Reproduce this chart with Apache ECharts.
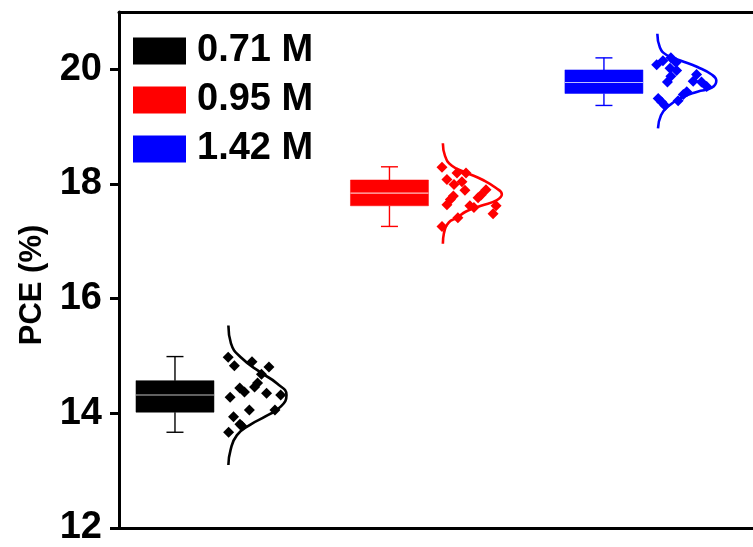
<!DOCTYPE html>
<html>
<head>
<meta charset="utf-8">
<script src="https://cdn.jsdelivr.net/npm/echarts@6/dist/echarts.min.js"></script>
<style>
  html, body { margin: 0; padding: 0; background: #fff; }
  #chart { width: 753px; height: 547px; }
</style>
</head>
<body>
<div id="chart"></div>
<script>
// Concentration groups and their colours
const groups = ['0.71 M', '0.95 M', '1.42 M'];
const groupColors = ['#000000', '#ff0000', '#0000ff'];

// Box statistics per group: [min, Q1, median, Q3, max] of PCE (%)
const boxStats = [
  [13.67, 14.02, 14.32, 14.57, 14.99],
  [17.26, 17.62, 17.84, 18.07, 18.30],
  [19.37, 19.58, 19.77, 19.99, 20.20]
];

// Individual devices: [horizontal jitter from the box centre, PCE (%)]
const points071 = [
  [0.248, 14.98], [0.277, 14.83], [0.359, 14.90], [0.438, 14.81], [0.403, 14.68],
  [0.385, 14.53], [0.371, 14.46], [0.302, 14.44], [0.324, 14.37], [0.257, 14.28],
  [0.427, 14.35], [0.493, 14.32], [0.347, 14.06], [0.466, 14.06], [0.273, 13.94],
  [0.303, 13.81], [0.312, 13.78], [0.250, 13.67]
];
const points095 = [
  [0.245, 18.29], [0.268, 18.08], [0.315, 18.19], [0.357, 18.19], [0.301, 17.99],
  [0.338, 18.04], [0.352, 17.89], [0.450, 17.90], [0.427, 17.81], [0.413, 17.76],
  [0.298, 17.79], [0.284, 17.73], [0.268, 17.64], [0.375, 17.62], [0.394, 17.59],
  [0.497, 17.62], [0.483, 17.48], [0.319, 17.41], [0.245, 17.26]
];
const points142 = [
  [0.246, 20.08], [0.275, 20.15], [0.312, 20.20], [0.336, 20.12], [0.308, 20.02],
  [0.339, 19.98], [0.312, 19.88], [0.296, 19.78], [0.432, 19.91], [0.416, 19.79],
  [0.455, 19.78], [0.479, 19.70], [0.386, 19.61], [0.370, 19.56], [0.346, 19.45],
  [0.253, 19.49], [0.269, 19.43], [0.284, 19.37]
];

// Normal-distribution outlines: [horizontal offset from the box centre, PCE (%)]
const curve071 = [
  [0.249, 15.53], [0.261, 15.22], [0.312, 14.96], [0.401, 14.71], [0.476, 14.52],
  [0.520, 14.32], [0.494, 14.12], [0.424, 13.95], [0.350, 13.80], [0.289, 13.62],
  [0.259, 13.36], [0.249, 13.10]
];
const curve095 = [
  [0.249, 18.71], [0.259, 18.49], [0.291, 18.32], [0.357, 18.20], [0.436, 18.07],
  [0.497, 17.93], [0.524, 17.82], [0.501, 17.72], [0.427, 17.62], [0.357, 17.52],
  [0.315, 17.41], [0.277, 17.33], [0.254, 17.14], [0.249, 16.96]
];
const curve142 = [
  [0.249, 20.62], [0.261, 20.38], [0.292, 20.25], [0.359, 20.15], [0.436, 20.04],
  [0.502, 19.91], [0.524, 19.80], [0.503, 19.68], [0.436, 19.61], [0.359, 19.50],
  [0.298, 19.35], [0.266, 19.20], [0.252, 18.97]
];

// Y axis tick values
const majorTicks = [12, 14, 16, 18, 20];
const minorTicks = [13, 15, 17, 19, 21];

const pointSets = [points071, points095, points142];
const curveSets = [curve071, curve095, curve142];

const FONT = '"Liberation Sans", Arial, Helvetica, sans-serif';

// Box-and-whisker glyph drawn through the axis scales
function renderBox(params, api) {
  const color = api.visual('color');
  const x = api.value(0);
  const pMin = api.coord([x, api.value(1)]);
  const yQ1 = api.coord([x, api.value(2)])[1];
  const yMed = api.coord([x, api.value(3)])[1];
  const yQ3 = api.coord([x, api.value(4)])[1];
  const yMax = api.coord([x, api.value(5)])[1];
  const cx = pMin[0], yMin = pMin[1];
  const half = 39, cap = 8.5;
  const ws = { stroke: color, lineWidth: 1.4 };
  return {
    type: 'group',
    children: [
      { type: 'line', shape: { x1: cx, y1: yMax, x2: cx, y2: yQ3 }, style: ws },
      { type: 'line', shape: { x1: cx, y1: yQ1, x2: cx, y2: yMin }, style: ws },
      { type: 'line', shape: { x1: cx - cap, y1: yMax, x2: cx + cap, y2: yMax }, style: ws },
      { type: 'line', shape: { x1: cx - cap, y1: yMin, x2: cx + cap, y2: yMin }, style: ws },
      { type: 'rect', shape: { x: cx - half, y: yQ3, width: half * 2, height: yQ1 - yQ3 },
        style: { fill: color, stroke: color, lineWidth: 0.5 } },
      { type: 'line', shape: { x1: cx - half, y1: yMed, x2: cx + half, y2: yMed },
        style: { stroke: 'rgba(255,255,255,0.75)', lineWidth: 1.2 } }
    ]
  };
}

const series = [];
groups.forEach((name, i) => {
  const centre = i + 1;
  series.push({
    name: name,
    type: 'custom',
    renderItem: renderBox,
    itemStyle: { color: groupColors[i] },
    data: [[centre].concat(boxStats[i])],
    z: 2
  });
  series.push({
    name: name,
    type: 'scatter',
    symbol: 'diamond',
    symbolSize: 11,
    itemStyle: { color: groupColors[i], opacity: 1 },
    data: pointSets[i].map(p => [centre + p[0], p[1]]),
    z: 3
  });
  series.push({
    name: name,
    type: 'line',
    smooth: 0.5,
    showSymbol: false,
    lineStyle: { color: groupColors[i], width: 2.6 },
    itemStyle: { color: groupColors[i] },
    data: curveSets[i].map(p => [centre + p[0], p[1]]),
    z: 3
  });
});

const chart = echarts.init(document.getElementById('chart'), null, { renderer: 'canvas' });
chart.setOption({
  animation: false,
  backgroundColor: '#ffffff',
  grid: { left: 119, right: 0, top: 12, bottom: 16 },
  legend: {
    data: groups.map(g => ({ name: g, icon: 'rect' })),
    orient: 'vertical',
    left: 133,
    top: 32,
    padding: 0,
    itemWidth: 53,
    itemHeight: 27,
    itemGap: 11,
    selectedMode: false,
    textStyle: { fontFamily: FONT, fontSize: 38, fontWeight: 'bold', color: '#000', padding: [0, 0, 8, 6] }
  },
  xAxis: [
    {
      type: 'value', min: 0.739, max: 3.695,
      axisLine: { show: true, onZero: false, lineStyle: { color: '#000', width: 3 } },
      axisTick: { show: false }, axisLabel: { show: false }, splitLine: { show: false }
    },
    {
      type: 'value', position: 'top', min: 0.739, max: 3.695,
      axisLine: { show: true, onZero: false, lineStyle: { color: '#000', width: 3 } },
      axisTick: { show: false }, axisLabel: { show: false }, splitLine: { show: false }
    }
  ],
  yAxis: [
    {
      type: 'value', min: 12, max: 21, interval: 1,
      name: 'PCE (%)',
      nameLocation: 'middle',
      nameGap: 71,
      nameTextStyle: { fontFamily: FONT, fontSize: 31, fontWeight: 'bold', color: '#000', padding: [0, 30, 0, 0] },
      axisLine: { show: true, onZero: false, lineStyle: { color: '#000', width: 3 } },
      axisTick: { show: true, length: 9, lineStyle: { color: '#000', width: 3 }, customValues: majorTicks },
      axisLabel: {
        fontFamily: FONT, fontSize: 38, fontWeight: 'bold', color: '#000', margin: 17,
        customValues: majorTicks
      },
      splitLine: { show: false }
    },
    {
      type: 'value', min: 12, max: 21, interval: 1,
      axisLine: { show: false },
      axisTick: { show: true, length: 4, lineStyle: { color: '#000', width: 3 }, customValues: minorTicks },
      axisLabel: { show: false },
      splitLine: { show: false }
    }
  ],
  series: series
});
</script>
</body>
</html>
